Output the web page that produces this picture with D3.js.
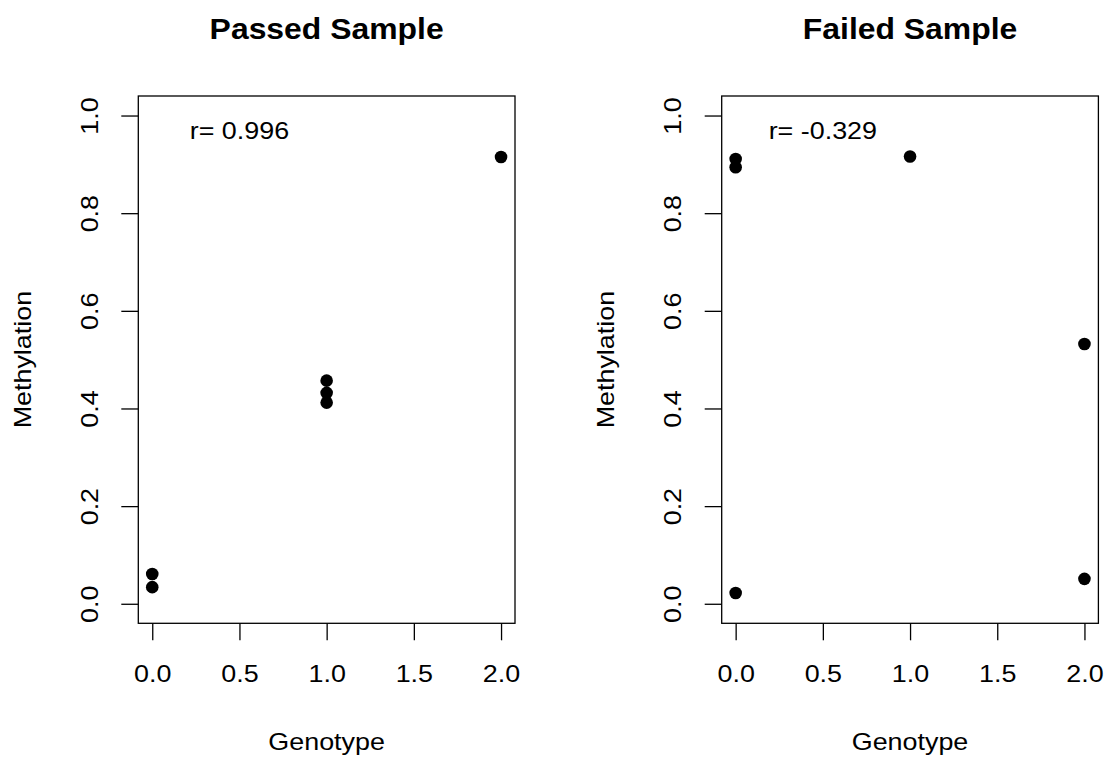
<!DOCTYPE html>
<html>
<head>
<meta charset="utf-8">
<script src="https://cdn.jsdelivr.net/npm/d3@7"></script>
<style>
  html, body { margin: 0; padding: 0; background: #fff; }
  svg { display: block; }
  text { font-family: "Liberation Sans", Arial, Helvetica, sans-serif; fill: #000; }
</style>
</head>
<body>
<svg id="chart" width="1112" height="758"></svg>
<script>
// ---- data ----
const panelTitles = ["Passed Sample", "Failed Sample"];
const correlationLabels = ["r= 0.996", "r= -0.329"];
const passedGenotype = [0, 0, 1, 1, 1, 2];
const passedMethylation = [0.061, 0.034, 0.457, 0.432, 0.412, 0.915];
const failedGenotype = [0, 0, 0, 1, 2, 2];
const failedMethylation = [0.911, 0.894, 0.022, 0.916, 0.532, 0.051];
const xTicks = [0, 0.5, 1, 1.5, 2];
const yTicks = [0, 0.2, 0.4, 0.6, 0.8, 1.0];
const xTitle = "Genotype";
const yTitle = "Methylation";

const panels = [
  { title: panelTitles[0], r: correlationLabels[0], x: passedGenotype, y: passedMethylation },
  { title: panelTitles[1], r: correlationLabels[1], x: failedGenotype, y: failedMethylation }
];

const svg = d3.select("#chart");
const STRETCH = 1.12;
function stretch(sel, f) {
  sel.each(function () {
    const len = this.getComputedTextLength();
    d3.select(this).attr("textLength", len * (f || STRETCH)).attr("lengthAdjust", "spacingAndGlyphs");
  });
}

const pLeft = 138.3, pRight = 515, pTop = 96, pBottom = 623.3;
const lw = 1.3;

panels.forEach((p, i) => {
  const g = svg.append("g").attr("transform", `translate(${i * 583.4},0)`);

  const x = d3.scaleLinear().domain([-0.08, 2.08]).range([pLeft, pRight]);
  const y = d3.scaleLinear().domain([-0.04, 1.04]).range([pBottom, pTop]);

  // x axis
  const xa = g.append("g")
    .attr("transform", `translate(0,${pBottom})`)
    .call(d3.axisBottom(x).tickValues(xTicks).tickFormat(d3.format(".1f")).tickSize(17).tickSizeOuter(0).tickPadding(25));
  xa.select(".domain").remove();
  xa.selectAll("line").attr("stroke", "#000").attr("stroke-width", lw);
  xa.selectAll("text").attr("font-size", 24).attr("fill", "#000")
    .attr("font-family", "Liberation Sans, Arial, sans-serif");
  stretch(xa.selectAll("text"));

  // y axis
  const ya = g.append("g")
    .attr("transform", `translate(${pLeft},0)`)
    .call(d3.axisLeft(y).tickValues(yTicks).tickFormat(d3.format(".1f")).tickSize(17).tickSizeOuter(0));
  ya.select(".domain").remove();
  ya.selectAll("line").attr("stroke", "#000").attr("stroke-width", lw);
  ya.selectAll("text")
    .attr("font-size", 24).attr("fill", "#000")
    .attr("font-family", "Liberation Sans, Arial, sans-serif")
    .attr("transform", "rotate(-90)")
    .attr("x", 0).attr("y", -(pLeft - 98)).attr("dy", 0)
    .attr("text-anchor", "middle");
  stretch(ya.selectAll("text"));

  // box
  g.append("rect")
    .attr("x", pLeft).attr("y", pTop)
    .attr("width", pRight - pLeft).attr("height", pBottom - pTop)
    .attr("fill", "none").attr("stroke", "#000").attr("stroke-width", lw);

  // points
  g.selectAll("circle.pt").data(p.x.map((d, k) => [d, p.y[k]])).enter()
    .append("circle").attr("class", "pt")
    .attr("cx", d => x(d[0])).attr("cy", d => y(d[1]))
    .attr("r", 6.3).attr("fill", "#000");

  // correlation label
  const rt = g.append("text")
    .attr("x", x(0.5)).attr("y", y(0.97)).attr("dy", "0.35em")
    .attr("text-anchor", "middle").attr("font-size", 24)
    .text(p.r);
  stretch(rt);

  // title
  const tt = g.append("text")
    .attr("x", (pLeft + pRight) / 2).attr("y", 39.3)
    .attr("text-anchor", "middle").attr("font-size", 29).attr("font-weight", "bold")
    .text(p.title);
  stretch(tt, 1.1);

  // axis titles
  const xt = g.append("text")
    .attr("x", (pLeft + pRight) / 2).attr("y", 750)
    .attr("text-anchor", "middle").attr("font-size", 24)
    .text(xTitle);
  stretch(xt);

  const yt = g.append("text")
    .attr("transform", `translate(31,${(pTop + pBottom) / 2}) rotate(-90)`)
    .attr("text-anchor", "middle").attr("font-size", 24)
    .text(yTitle);
  stretch(yt);
});
</script>
</body>
</html>
